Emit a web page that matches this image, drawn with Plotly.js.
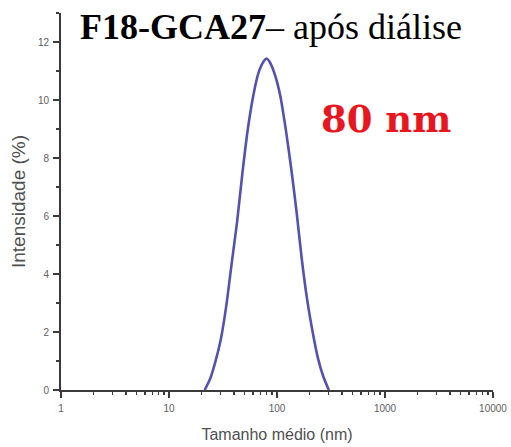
<!DOCTYPE html>
<html>
<head>
<meta charset="utf-8">
<script src="https://cdn.plot.ly/plotly-3.0.1.min.js"></script>
<style>
  html, body { margin: 0; padding: 0; background: #ffffff; }
  #chart { width: 511px; height: 447px; }
</style>
</head>
<body>
<div id="chart"></div>
<script>
// Size distribution by intensity (DLS), F18-GCA27 after dialysis
const sizeNm = [21.4, 24.0, 26.9, 30.2, 33.9, 38.0, 42.7, 47.9, 53.7, 60.3, 67.6, 75.9,
                80.0, 85.1, 95.5, 107.2, 120.2, 134.9, 151.4, 169.8, 190.5, 213.8,
                239.9, 269.2, 302.0];
const intensityPct = [0.0, 0.38, 0.98, 1.75, 2.90, 4.35, 5.80, 7.50, 9.00, 10.15, 10.95, 11.35,
                      11.43, 11.33, 10.88, 10.15, 9.02, 7.68, 6.18, 4.50, 3.10, 2.00,
                      1.08, 0.45, 0.0];

const xTickVals = [1, 10, 100, 1000, 10000];
const xTickText = ['1', '10', '100', '1000', '10000'];
const yTickVals = [0, 2, 4, 6, 8, 10, 12];

// minor ticks at 2..9 within each decade
const xMinor = [];
for (let d = 0; d < xTickVals.length - 1; d++) {
  for (let k = 2; k <= 9; k++) xMinor.push(k * xTickVals[d]);
}

const axisColor = '#3a3a3a';
const tickFont = { family: 'Liberation Sans, Arial, sans-serif', size: 10, color: '#606060' };

const trace = {
  x: sizeNm,
  y: intensityPct,
  type: 'scatter',
  mode: 'lines',
  line: { color: '#5252b2', width: 2.6, shape: 'spline', smoothing: 0.6 },
  hoverinfo: 'x+y'
};

const layout = {
  width: 511,
  height: 447,
  margin: { l: 61, r: 18, t: 13, b: 57 },
  paper_bgcolor: '#ffffff',
  plot_bgcolor: '#ffffff',
  showlegend: false,
  xaxis: {
    type: 'log',
    range: [0, 4],
    tickvals: xTickVals,
    ticktext: xTickText,
    ticks: 'outside',
    ticklen: 6,
    tickwidth: 1.5,
    tickcolor: axisColor,
    ticklabelstandoff: 2,
    minor: { tickvals: xMinor, ticks: 'outside', ticklen: 3, tickwidth: 1.2, tickcolor: axisColor },
    showline: true,
    linecolor: axisColor,
    linewidth: 2,
    showgrid: false,
    zeroline: false,
    tickfont: tickFont,
    automargin: false,
    title: {
      text: 'Tamanho médio (nm)',
      font: { family: 'Liberation Sans, Arial, sans-serif', size: 16, color: '#505050' },
      standoff: 16
    }
  },
  yaxis: {
    range: [0, 13],
    tickvals: yTickVals,
    ticks: 'outside',
    ticklen: 6,
    tickwidth: 1.5,
    tickcolor: axisColor,
    ticklabelstandoff: 2,
    minor: { dtick: 1, ticks: 'outside', ticklen: 3, tickwidth: 1.2, tickcolor: axisColor },
    showline: true,
    linecolor: axisColor,
    linewidth: 2,
    showgrid: false,
    zeroline: false,
    tickfont: tickFont,
    automargin: false,
    title: {
      text: 'Intensidade (%)',
      font: { family: 'Liberation Sans, Arial, sans-serif', size: 19, color: '#505050' },
      standoff: 7
    }
  },
  annotations: [
    {
      text: '<b>F18-GCA27</b>– após diálise',
      xref: 'paper', yref: 'paper',
      x: 0.039, y: 0.963,
      xanchor: 'left', yanchor: 'middle',
      showarrow: false,
      font: { family: 'Liberation Serif, Times New Roman, serif', size: 36, color: '#000000' }
    },
    {
      text: '<b>80 nm</b>',
      xref: 'paper', yref: 'paper',
      x: 0.752, y: 0.719,
      xanchor: 'center', yanchor: 'middle',
      showarrow: false,
      font: { family: 'DejaVu Serif, serif', size: 37, color: '#e8161e' }
    }
  ]
};

Plotly.newPlot('chart', [trace], layout, { displayModeBar: false, staticPlot: true });
</script>
</body>
</html>
